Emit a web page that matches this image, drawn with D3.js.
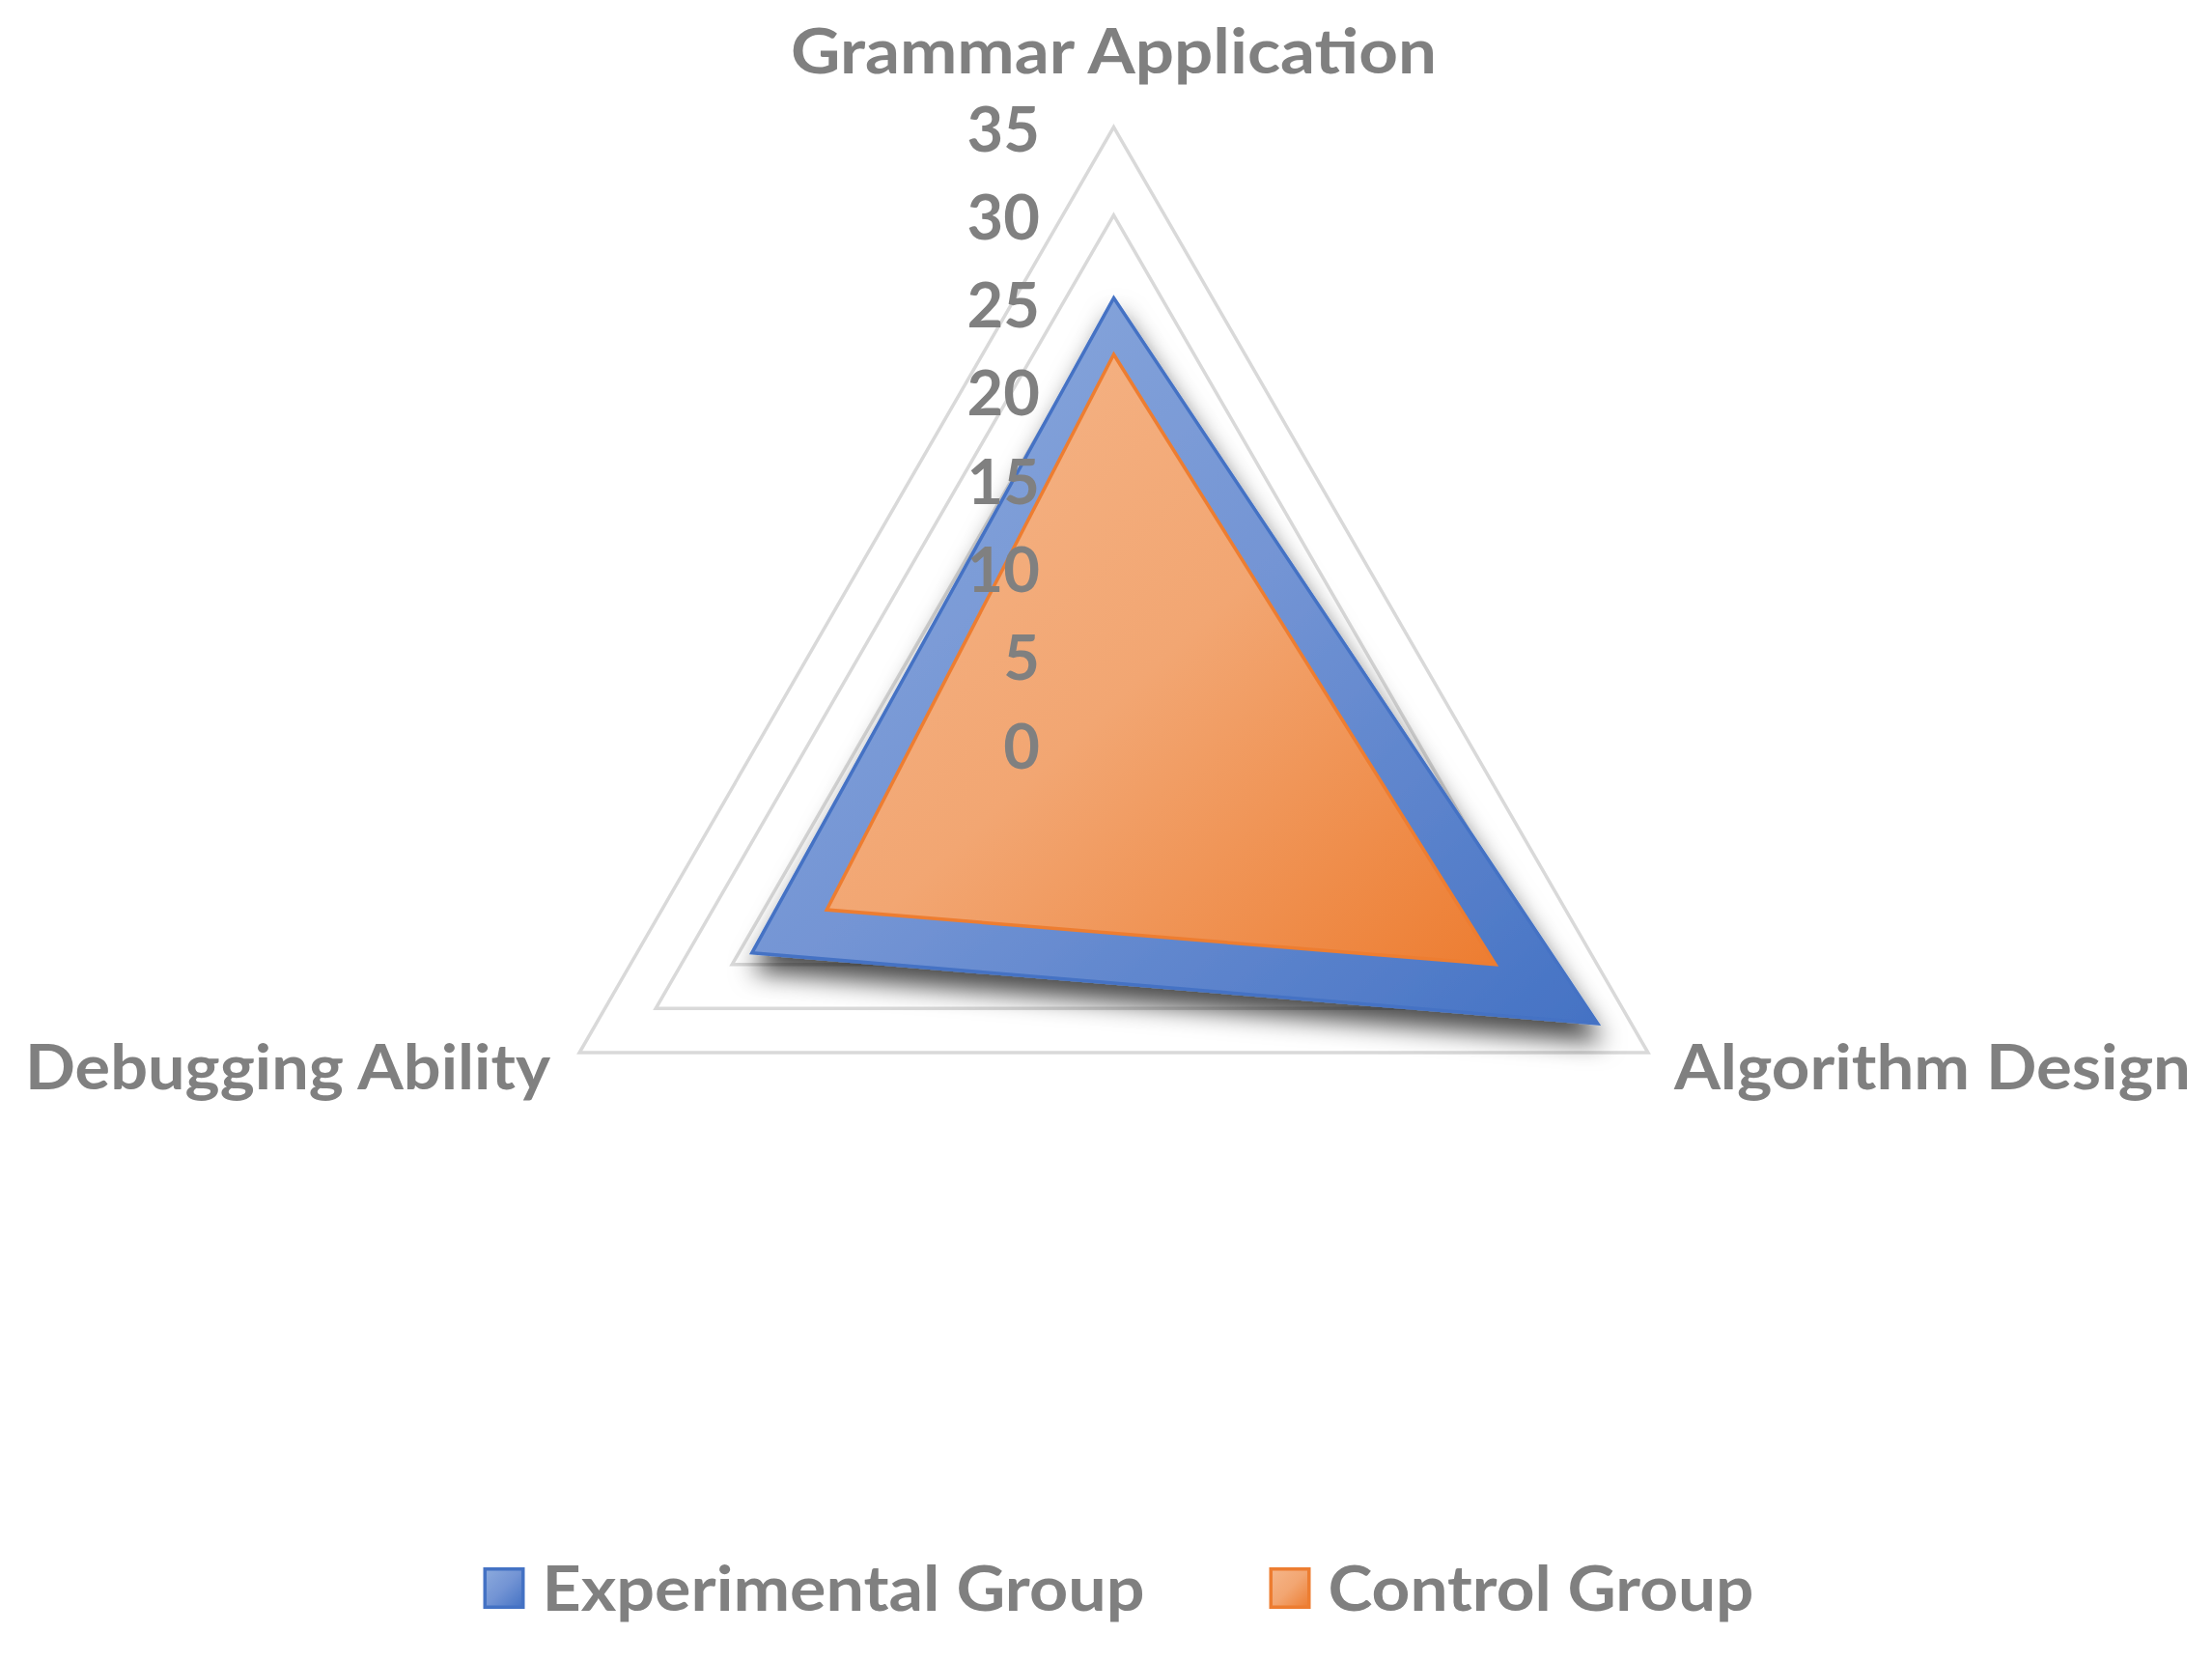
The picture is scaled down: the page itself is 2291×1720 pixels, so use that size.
<!DOCTYPE html>
<html>
<head>
<meta charset="utf-8">
<script src="https://cdn.jsdelivr.net/npm/d3@7"></script>
<style>
  html, body { margin: 0; padding: 0; background: #ffffff; }
  svg { display: block; }
  text { font-family: "Lato", "Open Sans", sans-serif; font-weight: 700; fill: #808080; }
</style>
</head>
<body>
<script>
// ---- data ----
const categories = ["Grammar Application", "Algorithm Design", "Debugging Ability"];
const seriesNames = ["Experimental Group", "Control Group"];
const experimentalValues = [25.3, 31.7, 23.7];
const controlValues = [22.1, 25.0, 18.8];
const tickValues = [0, 5, 10, 15, 20, 25, 30, 35];

// ---- layout ----
const W = 2291, H = 1720;
const cx = 1153.5, cy = 770.5, R = 639;
const fontSize = 65;

const svg = d3.select("body").append("svg").attr("width", W).attr("height", H);
const defs = svg.append("defs");

function grad(id, stops) {
  const g = defs.append("linearGradient").attr("id", id)
    .attr("x1", 0).attr("y1", 0).attr("x2", 1).attr("y2", 1);
  stops.forEach(s => g.append("stop").attr("offset", s[0]).attr("stop-color", s[1]));
}
grad("gBlue", [[0, "#8dabdd"], [0.5, "#7394d4"], [1, "#4472c4"]]);
grad("gOrange", [[0, "#f5b68a"], [0.5, "#f2a672"], [1, "#ed7d31"]]);

const f = defs.append("filter").attr("id", "shadow")
  .attr("x", "-20%").attr("y", "-20%").attr("width", "140%").attr("height", "150%");
f.append("feDropShadow").attr("dx", 3).attr("dy", 18).attr("stdDeviation", 13)
  .attr("flood-color", "#000").attr("flood-opacity", 0.7);

const r = d3.scaleLinear().domain([0, 35]).range([0, R]);
const angle = d3.scaleBand().domain(categories).range([0, 2 * Math.PI]);
const ang = c => angle(c) - Math.PI / 2;
const pt = (c, v) => [cx + r(v) * Math.cos(ang(c)), cy + r(v) * Math.sin(ang(c))];

// grid
const grid = svg.append("g");
tickValues.filter(t => t > 0).forEach(t => {
  grid.append("polygon")
    .attr("points", categories.map(c => pt(c, t).join(",")).join(" "))
    .attr("fill", "none").attr("stroke", "#d9d9d9").attr("stroke-width", 3.5);
});

// series
const series = [
  { name: seriesNames[0], values: experimentalValues, fill: "url(#gBlue)", stroke: "#4472c4", shadow: true },
  { name: seriesNames[1], values: controlValues, fill: "url(#gOrange)", stroke: "#ed7d31", shadow: false }
];
series.forEach(s => {
  svg.append("polygon")
    .attr("points", categories.map((c, i) => pt(c, s.values[i]).join(",")).join(" "))
    .attr("fill", s.fill).attr("stroke", s.stroke).attr("stroke-width", 3.5)
    .attr("stroke-linejoin", "miter")
    .attr("filter", s.shadow ? "url(#shadow)" : null);
});

// tick labels
svg.append("g").selectAll("text").data(tickValues).join("text")
  .attr("x", 1077).attr("y", d => cy - r(d))
  .attr("text-anchor", "end").attr("dominant-baseline", "central")
  .attr("font-size", fontSize).text(d => d);

// category labels
const catPos = [
  { x: cx, y: 76, anchor: "middle", w: 669 },
  { x: 1734, y: 1128, anchor: "start", w: 535 },
  { x: 570, y: 1128, anchor: "end", w: 544 }
];
svg.append("g").selectAll("text").data(categories).join("text")
  .attr("x", (d, i) => catPos[i].x).attr("y", (d, i) => catPos[i].y)
  .attr("text-anchor", (d, i) => catPos[i].anchor)
  .attr("textLength", (d, i) => catPos[i].w).attr("lengthAdjust", "spacingAndGlyphs")
  .attr("font-size", fontSize).text(d => d);

// legend
const lg = svg.append("g");
const legendTextW = [624, 441];
const marker = 43, gapMT = 18, gapItems = 129;
const total = legendTextW.reduce((a, w) => a + marker + gapMT + w, 0) + gapItems * (series.length - 1);
let x0 = 1158.5 - total / 2;
series.forEach((s, i) => {
  lg.append("rect").attr("x", x0 + 1.75).attr("y", 1624.75).attr("width", marker - 3.5).attr("height", marker - 3.5)
    .attr("fill", s.fill).attr("stroke", s.stroke).attr("stroke-width", 3.5);
  lg.append("text").attr("x", x0 + marker + gapMT).attr("y", 1668)
    .attr("font-size", fontSize)
    .attr("textLength", legendTextW[i]).attr("lengthAdjust", "spacingAndGlyphs")
    .text(s.name);
  x0 += marker + gapMT + legendTextW[i] + gapItems;
});
</script>
</body>
</html>
